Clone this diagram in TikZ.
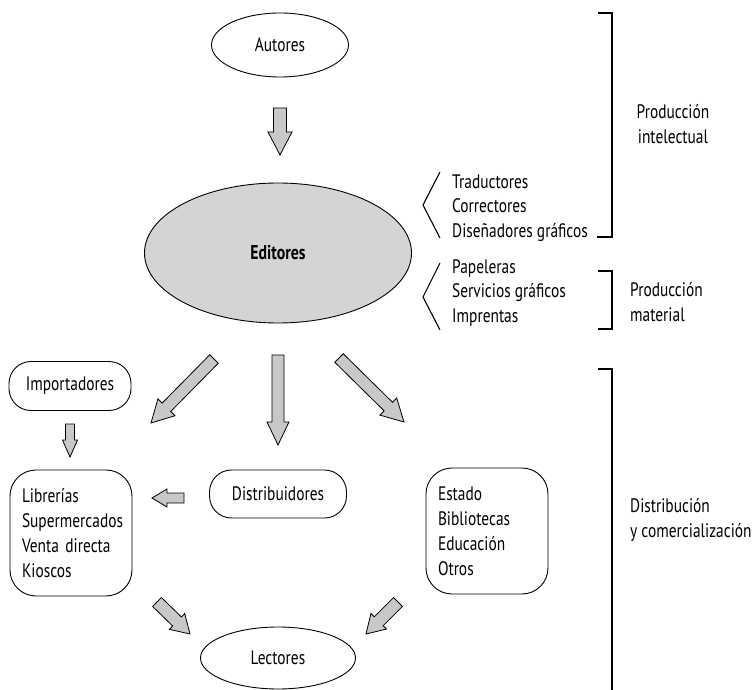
\documentclass[tikz,border=0pt]{standalone}
\usepackage{fontspec}
\setmainfont[FakeStretch=0.79]{PT Sans}
\usetikzlibrary{calc,shapes.geometric}
\definecolor{arrowgray}{RGB}{200,200,200}
\definecolor{editgray}{RGB}{212,212,212}

\begin{document}
\begin{tikzpicture}[x=1pt, y=-1pt,
    every node/.style={font=\fontsize{19.5}{25}\selectfont},
    oval/.style={draw, ellipse, line width=0.9pt, inner sep=0pt},
    box/.style={draw, rounded corners=22pt, line width=0.9pt, minimum width=122pt},
    listbox/.style={box, minimum height=126pt, text width=98pt, inner xsep=12pt, align=left, rounded corners=26pt},
    sidelist/.style={anchor=west, align=left, inner sep=0pt, font=\fontsize{19.5}{24.5}\selectfont},
    fat/.style n args={3}{draw, fill=arrowgray, line width=0.8pt, line join=miter,
        to path={let \p1=(\tikztostart), \p2=(\tikztotarget),
            \n1={atan2(\y2-\y1,\x2-\x1)},
            \n2={veclen(\x2-\x1,\y2-\y1)-#3} in
            ($(\p1)+(\n1+90:#1)$) -- ++(\n1:\n2*1pt) -- ++(\n1+90:#2-#1) -- (\p2)
            -- ($(\p1)+(\n1:\n2*1pt)+(\n1-90:#2)$) -- ++(\n1+90:#2-#1)
            -- ($(\p1)+(\n1-90:#1)$) -- cycle}},
    bracket/.style={line width=1.1pt}
]
\useasboundingbox (0,0) rectangle (756,690);

% main flow
\node[oval, minimum width=137pt, minimum height=64pt] (autores) at (280,45) {Autores};
\node[oval, fill=editgray, minimum width=267pt, minimum height=140pt, font=\fontsize{20}{25}\selectfont\bfseries] (editores) at (278,253) {Editores};
\node[box, minimum height=49pt] (importadores) at (70,386) {Importadores};
\node[listbox] (librerias) at (71,533) {Librerías\\Supermercados\\Venta directa\\Kioscos};
\node[box, minimum width=137pt, minimum height=48pt] (distribuidores) at (278,494) {Distribuidores};
\node[listbox] (estado) at (487,531) {Estado\\Bibliotecas\\Educación\\Otros};
\node[oval, minimum width=155pt, minimum height=62pt] (lectores) at (278,658) {Lectores};

% side lists
\node[sidelist] (tradlist) at (452,208) {Traductores\\Correctores\\Diseñadores gráficos};
\node[sidelist] (papelist) at (452,293) {Papeleras\\Servicios gráficos\\Imprentas};
\draw[bracket] (440,172) -- (423,205) -- (440,238);
\draw[bracket] (440,263) -- (423,297) -- (440,330);

% brackets
\draw[bracket] (598,13) -- (612,13) -- (612,237) -- (597,237);
\draw[bracket] (598,271) -- (612,271) -- (612,329) -- (598,329);
\draw[bracket] (598,369) -- (612,369) -- (612,692);
\node[align=center] (intelectual) at (673,124) {Producción\\intelectual};
\node[anchor=west, align=left, inner sep=0pt] (material) at (630,302) {Producción\\material};
\node[anchor=west, align=left, inner sep=0pt] (comercial) at (630,520) {Distribución\\y comercialización};

% arrow ends
\coordinate (autS) at (280,108);  \coordinate (autE) at (280,155);
\coordinate (midS) at (278,355);  \coordinate (midE) at (278,445);
\coordinate (leftS) at (214,359); \coordinate (leftE) at (151,423);
\coordinate (rightS) at (339,358); \coordinate (rightE) at (404,422);
\coordinate (impS) at (70,424);   \coordinate (impE) at (70,457);
\coordinate (disS) at (184,498);  \coordinate (disE) at (152,498);
\coordinate (libS) at (157,602);  \coordinate (libE) at (190,634);
\coordinate (estS) at (398,602);  \coordinate (estE) at (366,634);

% block arrows
\draw[fat={6.5pt}{12pt}{23pt}] (autS) to (autE);
\draw[fat={6pt}{11pt}{23pt}] (midS) to (midE);
\draw[fat={6pt}{12pt}{22pt}] (leftS) to (leftE);
\draw[fat={6pt}{12pt}{22pt}] (rightS) to (rightE);
\draw[fat={4.5pt}{7.5pt}{17pt}] (impS) to (impE);
\draw[fat={5pt}{9pt}{15pt}] (disS) to (disE);
\draw[fat={6.3pt}{11pt}{18pt}] (libS) to (libE);
\draw[fat={6.3pt}{11pt}{18pt}] (estS) to (estE);
\end{tikzpicture}
\end{document}
